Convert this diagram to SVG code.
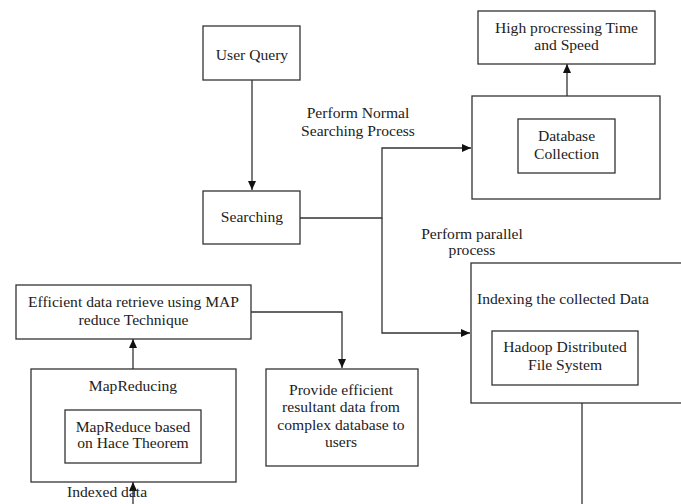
<svg xmlns="http://www.w3.org/2000/svg" width="681" height="504" viewBox="0 0 681 504">
<defs>
<style>
.b{fill:#fff;stroke:#333;stroke-width:1.3}
.t{font-family:"Liberation Serif","Times New Roman",serif;font-size:15.6px;fill:#222}
.m{text-anchor:middle}
.c{fill:none;stroke:#333;stroke-width:1.3}
</style>
<marker id="ah" markerUnits="userSpaceOnUse" markerWidth="10" markerHeight="10" refX="9" refY="4" orient="auto">
<path d="M0,0 L9,4 L0,8 Z" fill="#111"/>
</marker>
</defs>
<rect width="681" height="504" fill="#fff"/>
<g id="connectors">
<path class="c" d="M252,80 V190" marker-end="url(#ah)"/>
<path class="c" d="M300,218 H382 V148 H471" marker-end="url(#ah)"/>
<path class="c" d="M382,218 V333 H470" marker-end="url(#ah)"/>
<path class="c" d="M567,96 V64" marker-end="url(#ah)"/>
<path class="c" d="M582,403 V504"/>
<path class="c" d="M251,312 H342 V368" marker-end="url(#ah)"/>
<path class="c" d="M133,369 V339" marker-end="url(#ah)"/>
<path class="c" d="M133,504 V482" marker-end="url(#ah)"/>
</g>
<g id="user-query">
<rect class="b" x="203" y="26" width="97" height="54"/>
<text class="t m" x="252" y="60">User Query</text>
</g>
<g id="searching">
<rect class="b" x="203" y="191" width="97" height="53"/>
<text class="t m" x="252" y="222">Searching</text>
</g>
<g id="high-processing">
<rect class="b" x="478" y="11" width="177" height="53"/>
<text class="t m" x="566.5" y="33">High procressing Time</text>
<text class="t m" x="566.5" y="50">and Speed</text>
</g>
<g id="database-outer">
<rect class="b" x="472" y="96" width="188" height="103"/>
</g>
<g id="database-collection">
<rect class="b" x="518" y="119" width="97" height="54"/>
<text class="t m" x="566.5" y="141">Database</text>
<text class="t m" x="566.5" y="159">Collection</text>
</g>
<g id="label-normal">
<text class="t m" x="358" y="118">Perform Normal</text>
<text class="t m" x="358" y="136">Searching Process</text>
</g>
<g id="label-parallel">
<text class="t m" x="472" y="239">Perform parallel</text>
<text class="t m" x="472" y="255">process</text>
</g>
<g id="indexing">
<rect class="b" x="471" y="263" width="230" height="140"/>
<text class="t" x="477" y="304">Indexing the collected Data</text>
</g>
<g id="hadoop">
<rect class="b" x="492" y="331" width="146" height="54"/>
<text class="t m" x="565" y="352">Hadoop Distributed</text>
<text class="t m" x="565" y="370">File System</text>
</g>
<g id="efficient">
<rect class="b" x="16" y="285" width="235" height="54"/>
<text class="t m" x="133.5" y="307">Efficient data retrieve using MAP</text>
<text class="t m" x="133.5" y="325">reduce Technique</text>
</g>
<g id="provide">
<rect class="b" x="266" y="369" width="152" height="97"/>
<text class="t m" x="341" y="395">Provide efficient</text>
<text class="t m" x="341" y="412">resultant data from</text>
<text class="t m" x="341" y="430">complex database to</text>
<text class="t m" x="341" y="447">users</text>
</g>
<g id="mapreducing">
<rect class="b" x="31" y="369" width="205" height="113"/>
<text class="t m" x="133" y="391">MapReducing</text>
</g>
<g id="mapreduce-hace">
<rect class="b" x="65" y="410" width="136" height="53"/>
<text class="t m" x="133" y="432">MapReduce based</text>
<text class="t m" x="133" y="448">on Hace Theorem</text>
</g>
<g id="label-indexed">
<text class="t" x="67" y="497">Indexed data</text>
</g>
</svg>
